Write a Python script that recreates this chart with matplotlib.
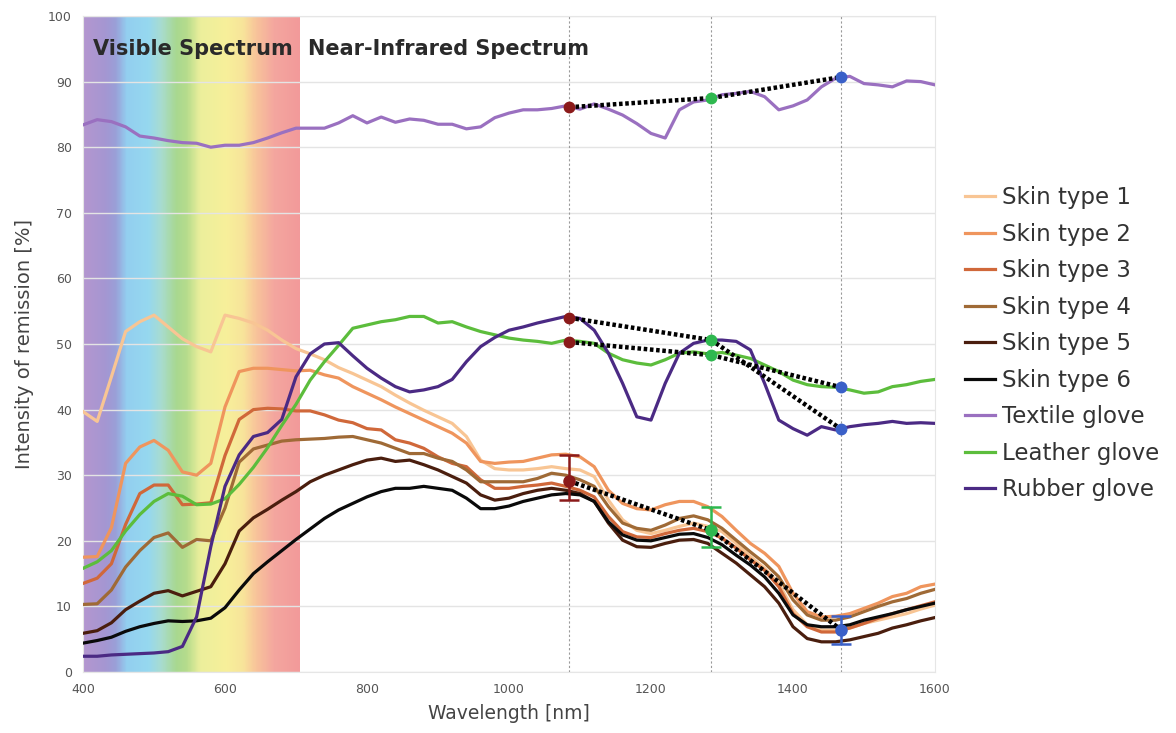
import numpy as np
import matplotlib
matplotlib.use('Agg')
import matplotlib.pyplot as plt
from matplotlib.colors import LinearSegmentedColormap

# wavelength grid [nm]
wl = list(range(400, 1601, 20))

skin1 = [39.7, 38.2, 45.0, 51.9, 53.4, 54.4, 52.6, 50.8, 49.6, 48.8, 54.4, 53.9, 53.2, 52.1, 50.6, 49.3,
         48.5, 47.6, 46.4, 45.5, 44.5, 43.5, 42.2, 41.0, 39.9, 38.9, 37.9, 35.9, 32.3, 31.0, 30.8, 30.8,
         31.0, 31.3, 31.0, 30.8, 29.8, 26.2, 23.2, 21.6, 21.1, 21.6, 22.2, 22.7, 22.2, 21.4, 19.6, 17.6,
         15.8, 13.5, 9.5, 7.2, 6.4, 6.4, 6.7, 7.4, 7.9, 8.4, 8.9, 9.6, 10.2]
skin2 = [17.5, 17.6, 22.0, 31.8, 34.3, 35.3, 33.8, 30.5, 30.0, 31.8, 40.4, 45.8, 46.3, 46.3, 46.1, 45.9,
         46.0, 45.3, 44.8, 43.5, 42.5, 41.5, 40.4, 39.4, 38.4, 37.4, 36.4, 34.9, 32.1, 31.8, 32.0, 32.1,
         32.6, 33.1, 33.2, 32.8, 31.3, 27.7, 25.7, 24.9, 24.7, 25.5, 26.0, 26.0, 25.2, 23.7, 21.6, 19.6,
         18.1, 16.1, 12.0, 9.2, 8.4, 8.5, 8.9, 9.7, 10.5, 11.5, 12.0, 13.0, 13.4]
skin3 = [13.5, 14.3, 16.5, 22.5, 27.2, 28.5, 28.5, 25.5, 25.6, 25.8, 33.0, 38.5, 40.0, 40.2, 40.1, 39.8,
         39.8, 39.2, 38.4, 38.0, 37.1, 36.9, 35.4, 34.9, 34.1, 32.8, 31.8, 31.3, 29.3, 28.0, 28.0, 28.3,
         28.5, 28.8, 28.3, 27.7, 26.7, 23.7, 21.4, 20.6, 20.5, 21.1, 21.6, 21.9, 21.4, 20.4, 18.9, 17.1,
         15.5, 13.0, 8.9, 6.9, 6.1, 6.1, 6.7, 7.4, 8.2, 8.9, 9.5, 10.1, 10.7]
skin4 = [10.3, 10.4, 12.5, 16.0, 18.5, 20.5, 21.2, 19.0, 20.2, 20.0, 25.0, 32.0, 34.0, 34.6, 35.2, 35.4,
         35.5, 35.6, 35.8, 35.9, 35.4, 34.9, 34.1, 33.3, 33.3, 32.6, 32.1, 30.8, 29.0, 29.0, 29.0, 29.0,
         29.5, 30.3, 30.0, 29.3, 28.3, 25.2, 22.7, 21.9, 21.6, 22.4, 23.4, 23.8, 23.2, 21.9, 20.1, 18.3,
         16.6, 14.5, 11.0, 8.7, 7.9, 7.9, 8.4, 9.2, 10.0, 10.7, 11.2, 12.0, 12.6]
skin5 = [5.9, 6.3, 7.5, 9.5, 10.8, 12.0, 12.4, 11.6, 12.3, 13.0, 16.5, 21.5, 23.5, 24.8, 26.2, 27.5,
         29.0, 30.0, 30.8, 31.6, 32.3, 32.6, 32.1, 32.3, 31.6, 30.8, 29.8, 28.8, 27.0, 26.2, 26.5, 27.2,
         27.7, 28.0, 27.7, 27.2, 26.0, 22.7, 20.1, 19.1, 19.0, 19.6, 20.1, 20.2, 19.6, 18.1, 16.6, 14.8,
         13.0, 10.5, 6.9, 5.1, 4.6, 4.6, 4.9, 5.4, 5.9, 6.7, 7.2, 7.8, 8.3]
skin6 = [4.4, 4.8, 5.3, 6.2, 6.9, 7.4, 7.8, 7.7, 7.8, 8.2, 9.8, 12.5, 15.0, 16.8, 18.5, 20.2,
         21.8, 23.4, 24.7, 25.7, 26.7, 27.5, 28.0, 28.0, 28.3, 28.0, 27.7, 26.5, 24.9, 24.9, 25.3, 26.0,
         26.5, 27.0, 27.2, 27.0, 26.0, 22.9, 20.9, 20.1, 20.0, 20.5, 21.0, 21.1, 20.5, 19.4, 17.8, 16.3,
         14.5, 12.0, 8.7, 7.2, 6.9, 6.9, 7.2, 7.9, 8.4, 8.9, 9.5, 10.0, 10.5]
textile = [83.4, 84.2, 83.9, 83.1, 81.7, 81.4, 81.0, 80.7, 80.6, 80.0, 80.3, 80.3, 80.7, 81.4, 82.2, 82.9,
           82.9, 82.9, 83.7, 84.8, 83.7, 84.6, 83.8, 84.3, 84.1, 83.5, 83.5, 82.8, 83.1, 84.5, 85.2, 85.7,
           85.7, 85.9, 86.3, 85.8, 86.6, 85.8, 84.9, 83.6, 82.1, 81.4, 85.7, 86.9, 87.2, 88.0, 88.2, 88.5,
           87.7, 85.7, 86.3, 87.2, 89.2, 90.5, 90.8, 89.7, 89.5, 89.2, 90.1, 90.0, 89.5]
leather = [15.8, 16.8, 18.5, 21.5, 24.0, 26.0, 27.2, 26.8, 25.5, 25.6, 26.4, 28.6, 31.2, 34.2, 37.6, 40.8,
           44.5, 47.3, 49.8, 52.4, 52.9, 53.4, 53.7, 54.2, 54.2, 53.2, 53.4, 52.6, 51.9, 51.4, 50.9, 50.6,
           50.4, 50.1, 50.6, 50.4, 50.1, 48.6, 47.6, 47.1, 46.8, 47.6, 48.6, 48.8, 48.5, 48.7, 48.3, 47.8,
           46.8, 45.8, 44.5, 43.8, 43.5, 43.4, 43.0, 42.5, 42.7, 43.5, 43.8, 44.3, 44.6]
rubber = [2.4, 2.4, 2.6, 2.7, 2.8, 2.9, 3.1, 3.9, 8.4, 19.1, 28.3, 33.1, 35.9, 36.5, 38.5, 45.0,
          48.5, 50.0, 50.2, 48.2, 46.3, 44.8, 43.5, 42.7, 43.0, 43.5, 44.6, 47.3, 49.6, 51.0, 52.1, 52.6,
          53.2, 53.7, 54.2, 53.9, 52.1, 48.6, 44.0, 38.9, 38.4, 44.0, 48.6, 50.1, 50.6, 50.6, 50.4, 49.1,
          44.0, 38.4, 37.1, 36.1, 37.4, 36.9, 37.4, 37.7, 37.9, 38.2, 37.9, 38.0, 37.9]

labels = ['Skin type 1', 'Skin type 2', 'Skin type 3', 'Skin type 4', 'Skin type 5', 'Skin type 6',
          'Textile glove', 'Leather glove', 'Rubber glove']
colors = ['#f8c594', '#ef955d', '#d0683a', '#9f6a36', '#4a1e0e', '#0a0a0a',
          '#9a70c0', '#5cbd3c', '#4b2a84']

# selected wavebands and values at them
bands = [1085, 1285, 1468]
band_colors = ['#8b1a1a', '#2eb84f', '#3a60c8']
textile_pts = [86.1, 87.5, 90.7]
rubber_pts = [54.0, 50.6, 37.0]
leather_pts = [50.3, 48.3, 43.4]
skin_pts = [29.1, 21.6, 6.4]
skin_low = [26.2, 19.1, 4.3]
skin_high = [33.1, 25.2, 8.5]

fig = plt.figure(figsize=(11.76, 7.33), dpi=100)
ax = fig.add_axes([83/1176, 1-672/733, (935-83)/1176, (672-16)/733])

# visible spectrum background
spec = LinearSegmentedColormap.from_list('spec', [
    (0.00, '#b497cf'), (0.10, '#a596d2'), (0.15, '#9aa0d8'), (0.20, '#93cff0'),
    (0.30, '#96d8ef'), (0.36, '#a8dcd0'), (0.43, '#a8d890'), (0.48, '#b6dc8c'),
    (0.54, '#ecef9c'), (0.66, '#f7f09a'), (0.74, '#f8e49a'), (0.80, '#f8c49a'),
    (0.885, '#f4a69f'), (1.00, '#f29a9a')])
ax.imshow(np.linspace(0, 1, 300).reshape(1, -1), cmap=spec, extent=(400, 705, 0, 100),
          aspect='auto', zorder=0, interpolation='bilinear')

ax.set_xlim(400, 1600)
ax.set_ylim(0, 100)
ax.set_yticks(range(0, 101, 10))
ax.set_xticks(range(400, 1601, 200))
ax.grid(axis='y', color='#e4e4e4', linewidth=1, zorder=1)
ax.set_axisbelow(True)
for s in ax.spines.values():
    s.set_color('#e6e6e6')
ax.tick_params(length=0, labelsize=9, labelcolor='#555555', pad=8)

for b in bands:
    ax.axvline(b, color='#9a9a9a', linestyle=(0, (2, 2)), linewidth=0.8, zorder=1.5)

series = [skin1, skin2, skin3, skin4, skin5, skin6, textile, leather, rubber]
handles = []
for vals, lab, c in zip(series, labels, colors):
    h, = ax.plot(wl, vals, color=c, linewidth=2.3, label=lab, zorder=3)
    handles.append(h)

# dotted connectors between wavebands
for pts in [textile_pts, rubber_pts, leather_pts, skin_pts]:
    ax.plot(bands, pts, color='black', linestyle=(0, (0.8, 0.6)), linewidth=3.2, zorder=4)

for i, b in enumerate(bands):
    for pts in [textile_pts, rubber_pts, leather_pts]:
        ax.plot(b, pts[i], 'o', color=band_colors[i], markersize=7.5, zorder=5)
    ax.errorbar(b, skin_pts[i], yerr=[[skin_pts[i]-skin_low[i]], [skin_high[i]-skin_pts[i]]],
                fmt='o', color=band_colors[i], markersize=8, capsize=7, elinewidth=1.8,
                capthick=1.8, zorder=5)

ax.text(414, 95, 'Visible Spectrum', fontsize=15, fontweight='bold', color='#2a2a2a',
        va='center', ha='left', zorder=6)
ax.text(717, 95, 'Near-Infrared Spectrum', fontsize=15, fontweight='bold', color='#2a2a2a',
        va='center', ha='left', zorder=6)

ax.set_xlabel('Wavelength [nm]', fontsize=13.5, color='#444444', labelpad=6)
ax.set_ylabel('Intensity of remission [%]', fontsize=14, color='#444444', labelpad=10)

fig.legend(handles=handles, labels=labels, loc='upper left', bbox_to_anchor=(956/1176, 1-177/733),
           frameon=False, fontsize=16.5, handlelength=1.3, handletextpad=0.3, labelspacing=0.59,
           borderaxespad=0, labelcolor='#333333')

fig.savefig('out.png', dpi=100)
